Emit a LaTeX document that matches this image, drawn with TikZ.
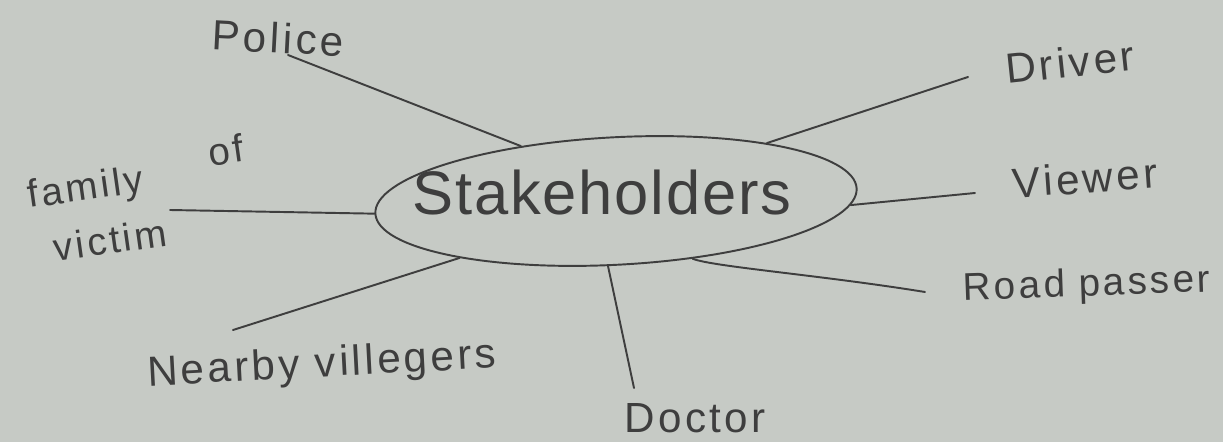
\documentclass[tikz,border=0pt]{standalone}
\usepackage{fontspec}
\setmainfont{Liberation Sans}
\usetikzlibrary{shapes.geometric,calc}
\definecolor{paper}{RGB}{198,202,197}
\definecolor{ink}{RGB}{62,62,62}
\tikzset{
  ink line/.style={draw=ink, line width=1.1pt, line cap=round},
  lbl/.style={text=ink, inner sep=0pt, font=\fontsize{24}{28}\selectfont\addfontfeature{LetterSpace=8}},
  small lbl/.style={lbl, font=\fontsize{22}{26}\selectfont\addfontfeature{LetterSpace=8}},
  hub/.style={ellipse, draw=ink, line width=1.1pt, minimum width=9.64cm, minimum height=2.55cm, inner sep=0pt}
}
\begin{document}
\begin{tikzpicture}[x=0.02cm, y=-0.02cm]
  \fill[paper] (0,0) rectangle (1223,442);
  \useasboundingbox (0,0) rectangle (1223,442);
  % hub
  \node[hub, rotate=3] (st) at (616,201) {};
  \node[text=ink, inner sep=0pt, font=\fontsize{35}{40}\selectfont\addfontfeature{LetterSpace=3}] (sttext) at (602,193) {Stakeholders};
  % labels
  \node[lbl, rotate=-3] (police) at (278,38) {Police};
  \node[lbl, rotate=6] (driver) at (1070,62) {Driver};
  \node[lbl, rotate=4] (viewer) at (1085,178) {Viewer};
  \node[lbl, font=\fontsize{22}{26}\selectfont\addfontfeature{LetterSpace=8}, rotate=2] (road) at (1087,286) {Road passer};
  \node[lbl] (doctor) at (695,418) {Doctor};
  \node[lbl, rotate=3] (nearby) at (322,366) {Nearby villegers};
  \node[small lbl, rotate=8] (family) at (86,190) {family};
  \node[small lbl, rotate=8] (of) at (226,150) {of};
  \node[small lbl, rotate=8] (victim) at (110,240) {victim};
  % free ends near labels
  \coordinate (cpolice) at (288,55);
  \coordinate (cdriver) at (968,77);
  \coordinate (cviewer) at (975,193);
  \coordinate (croad) at (925,292);
  \coordinate (cdoctor) at (634,388);
  \coordinate (cnearby) at (233,330);
  \coordinate (cfamily) at (170,210);
  % connectors
  \draw[ink line] (st.147) -- (cpolice);
  \draw[ink line] (st.18) -- (cdriver);
  \draw[ink line] (st.-4) -- (cviewer);
  \draw[ink line] (st.-40) .. controls ($(st.-40)+(20,8)$) and (820,275) .. (croad);
  \draw[ink line] (st.-100) -- (cdoctor);
  \draw[ink line] (st.197) -- (cnearby);
  \draw[ink line] (st.180) -- (cfamily);
\end{tikzpicture}
\end{document}
